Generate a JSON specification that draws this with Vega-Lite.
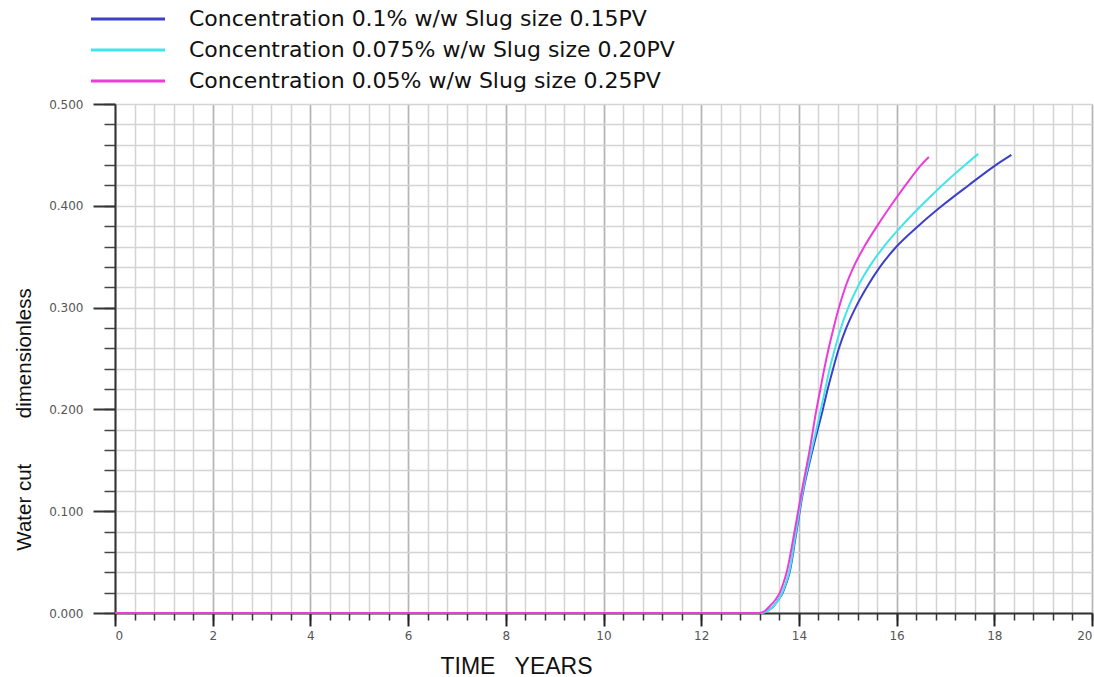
{
  "$schema": "https://vega.github.io/schema/vega-lite/v6.json",
  "width": 977,
  "height": 509,
  "autosize": "none",
  "padding": {"left": 115, "top": 104, "right": 2, "bottom": 64},
  "background": "white",
  "datasets": {
    "curves": [
      {"series": "Concentration 0.1% w/w Slug size 0.15PV", "t": 0, "wc": 0},
      {"series": "Concentration 0.1% w/w Slug size 0.15PV", "t": 13.25, "wc": 0},
      {"series": "Concentration 0.1% w/w Slug size 0.15PV", "t": 13.35, "wc": 0.002},
      {"series": "Concentration 0.1% w/w Slug size 0.15PV", "t": 13.47, "wc": 0.006},
      {"series": "Concentration 0.1% w/w Slug size 0.15PV", "t": 13.58, "wc": 0.013},
      {"series": "Concentration 0.1% w/w Slug size 0.15PV", "t": 13.67, "wc": 0.02},
      {"series": "Concentration 0.1% w/w Slug size 0.15PV", "t": 13.74, "wc": 0.029},
      {"series": "Concentration 0.1% w/w Slug size 0.15PV", "t": 13.81, "wc": 0.04},
      {"series": "Concentration 0.1% w/w Slug size 0.15PV", "t": 13.95, "wc": 0.08},
      {"series": "Concentration 0.1% w/w Slug size 0.15PV", "t": 14.09, "wc": 0.12},
      {"series": "Concentration 0.1% w/w Slug size 0.15PV", "t": 14.28, "wc": 0.16},
      {"series": "Concentration 0.1% w/w Slug size 0.15PV", "t": 14.49, "wc": 0.2},
      {"series": "Concentration 0.1% w/w Slug size 0.15PV", "t": 14.59, "wc": 0.22},
      {"series": "Concentration 0.1% w/w Slug size 0.15PV", "t": 14.7, "wc": 0.24},
      {"series": "Concentration 0.1% w/w Slug size 0.15PV", "t": 14.82, "wc": 0.26},
      {"series": "Concentration 0.1% w/w Slug size 0.15PV", "t": 14.97, "wc": 0.28},
      {"series": "Concentration 0.1% w/w Slug size 0.15PV", "t": 15.16, "wc": 0.3},
      {"series": "Concentration 0.1% w/w Slug size 0.15PV", "t": 15.39, "wc": 0.32},
      {"series": "Concentration 0.1% w/w Slug size 0.15PV", "t": 15.66, "wc": 0.34},
      {"series": "Concentration 0.1% w/w Slug size 0.15PV", "t": 16.0, "wc": 0.36},
      {"series": "Concentration 0.1% w/w Slug size 0.15PV", "t": 16.44, "wc": 0.38},
      {"series": "Concentration 0.1% w/w Slug size 0.15PV", "t": 16.93, "wc": 0.4},
      {"series": "Concentration 0.1% w/w Slug size 0.15PV", "t": 17.47, "wc": 0.42},
      {"series": "Concentration 0.1% w/w Slug size 0.15PV", "t": 18.03, "wc": 0.44},
      {"series": "Concentration 0.1% w/w Slug size 0.15PV", "t": 18.35, "wc": 0.45},
      {"series": "Concentration 0.075% w/w Slug size 0.20PV", "t": 0, "wc": 0},
      {"series": "Concentration 0.075% w/w Slug size 0.20PV", "t": 13.25, "wc": 0},
      {"series": "Concentration 0.075% w/w Slug size 0.20PV", "t": 13.35, "wc": 0.002},
      {"series": "Concentration 0.075% w/w Slug size 0.20PV", "t": 13.47, "wc": 0.006},
      {"series": "Concentration 0.075% w/w Slug size 0.20PV", "t": 13.58, "wc": 0.013},
      {"series": "Concentration 0.075% w/w Slug size 0.20PV", "t": 13.66, "wc": 0.02},
      {"series": "Concentration 0.075% w/w Slug size 0.20PV", "t": 13.73, "wc": 0.029},
      {"series": "Concentration 0.075% w/w Slug size 0.20PV", "t": 13.8, "wc": 0.04},
      {"series": "Concentration 0.075% w/w Slug size 0.20PV", "t": 13.94, "wc": 0.08},
      {"series": "Concentration 0.075% w/w Slug size 0.20PV", "t": 14.08, "wc": 0.12},
      {"series": "Concentration 0.075% w/w Slug size 0.20PV", "t": 14.26, "wc": 0.16},
      {"series": "Concentration 0.075% w/w Slug size 0.20PV", "t": 14.45, "wc": 0.2},
      {"series": "Concentration 0.075% w/w Slug size 0.20PV", "t": 14.54, "wc": 0.22},
      {"series": "Concentration 0.075% w/w Slug size 0.20PV", "t": 14.63, "wc": 0.24},
      {"series": "Concentration 0.075% w/w Slug size 0.20PV", "t": 14.74, "wc": 0.26},
      {"series": "Concentration 0.075% w/w Slug size 0.20PV", "t": 14.86, "wc": 0.28},
      {"series": "Concentration 0.075% w/w Slug size 0.20PV", "t": 15.01, "wc": 0.3},
      {"series": "Concentration 0.075% w/w Slug size 0.20PV", "t": 15.2, "wc": 0.32},
      {"series": "Concentration 0.075% w/w Slug size 0.20PV", "t": 15.44, "wc": 0.34},
      {"series": "Concentration 0.075% w/w Slug size 0.20PV", "t": 15.74, "wc": 0.36},
      {"series": "Concentration 0.075% w/w Slug size 0.20PV", "t": 16.1, "wc": 0.38},
      {"series": "Concentration 0.075% w/w Slug size 0.20PV", "t": 16.5, "wc": 0.4},
      {"series": "Concentration 0.075% w/w Slug size 0.20PV", "t": 16.93, "wc": 0.42},
      {"series": "Concentration 0.075% w/w Slug size 0.20PV", "t": 17.4, "wc": 0.44},
      {"series": "Concentration 0.075% w/w Slug size 0.20PV", "t": 17.67, "wc": 0.451},
      {"series": "Concentration 0.05% w/w Slug size 0.25PV", "t": 0, "wc": 0},
      {"series": "Concentration 0.05% w/w Slug size 0.25PV", "t": 13.2, "wc": 0},
      {"series": "Concentration 0.05% w/w Slug size 0.25PV", "t": 13.3, "wc": 0.002},
      {"series": "Concentration 0.05% w/w Slug size 0.25PV", "t": 13.41, "wc": 0.007},
      {"series": "Concentration 0.05% w/w Slug size 0.25PV", "t": 13.52, "wc": 0.013},
      {"series": "Concentration 0.05% w/w Slug size 0.25PV", "t": 13.61, "wc": 0.02},
      {"series": "Concentration 0.05% w/w Slug size 0.25PV", "t": 13.68, "wc": 0.029},
      {"series": "Concentration 0.05% w/w Slug size 0.25PV", "t": 13.75, "wc": 0.04},
      {"series": "Concentration 0.05% w/w Slug size 0.25PV", "t": 13.91, "wc": 0.08},
      {"series": "Concentration 0.05% w/w Slug size 0.25PV", "t": 14.06, "wc": 0.12},
      {"series": "Concentration 0.05% w/w Slug size 0.25PV", "t": 14.22, "wc": 0.16},
      {"series": "Concentration 0.05% w/w Slug size 0.25PV", "t": 14.36, "wc": 0.2},
      {"series": "Concentration 0.05% w/w Slug size 0.25PV", "t": 14.44, "wc": 0.22},
      {"series": "Concentration 0.05% w/w Slug size 0.25PV", "t": 14.52, "wc": 0.24},
      {"series": "Concentration 0.05% w/w Slug size 0.25PV", "t": 14.61, "wc": 0.26},
      {"series": "Concentration 0.05% w/w Slug size 0.25PV", "t": 14.71, "wc": 0.28},
      {"series": "Concentration 0.05% w/w Slug size 0.25PV", "t": 14.82, "wc": 0.3},
      {"series": "Concentration 0.05% w/w Slug size 0.25PV", "t": 14.95, "wc": 0.32},
      {"series": "Concentration 0.05% w/w Slug size 0.25PV", "t": 15.12, "wc": 0.34},
      {"series": "Concentration 0.05% w/w Slug size 0.25PV", "t": 15.34, "wc": 0.36},
      {"series": "Concentration 0.05% w/w Slug size 0.25PV", "t": 15.6, "wc": 0.38},
      {"series": "Concentration 0.05% w/w Slug size 0.25PV", "t": 15.88, "wc": 0.4},
      {"series": "Concentration 0.05% w/w Slug size 0.25PV", "t": 16.18, "wc": 0.42},
      {"series": "Concentration 0.05% w/w Slug size 0.25PV", "t": 16.5, "wc": 0.44},
      {"series": "Concentration 0.05% w/w Slug size 0.25PV", "t": 16.66, "wc": 0.448}
    ]
  },
  "data": {"name": "curves"},
  "layer": [
    {
      "mark": {"type": "line", "opacity": 0},
      "encoding": {
        "x": {
          "field": "t", "type": "quantitative",
          "scale": {"domain": [0, 20], "nice": false, "zero": false},
          "axis": {
            "orient": "bottom",
            "values": [0,0.4,0.8,1.2,1.6,2,2.4,2.8,3.2,3.6,4,4.4,4.8,5.2,5.6,6,6.4,6.8,7.2,7.6,8,8.4,8.8,9.2,9.6,10,10.4,10.8,11.2,11.6,12,12.4,12.8,13.2,13.6,14,14.4,14.8,15.2,15.6,16,16.4,16.8,17.2,17.6,18,18.4,18.8,19.2,19.6,20],
            "grid": true, "gridColor": "#d4d4d4", "gridWidth": 1.5,
            "domain": false, "labels": false, "title": null,
            "ticks": true, "tickSize": 7, "tickColor": "#333", "tickWidth": 1.5
          }
        },
        "y": {
          "field": "wc", "type": "quantitative",
          "scale": {"domain": [0, 0.5], "nice": false},
          "axis": {
            "orient": "left",
            "values": [0,0.02,0.04,0.06,0.08,0.1,0.12,0.14,0.16,0.18,0.2,0.22,0.24,0.26,0.28,0.3,0.32,0.34,0.36,0.38,0.4,0.42,0.44,0.46,0.48,0.5],
            "grid": true, "gridColor": "#d4d4d4", "gridWidth": 1.5,
            "domain": false, "labels": false, "title": null,
            "ticks": true, "tickSize": 11, "tickColor": "#444", "tickWidth": 1.5
          }
        }
      }
    },
    {
      "mark": {"type": "line", "strokeWidth": 2, "interpolate": "monotone"},
      "encoding": {
        "x": {
          "field": "t", "type": "quantitative",
          "scale": {"domain": [0, 20], "nice": false, "zero": false},
          "axis": {
            "orient": "bottom",
            "values": [0, 2, 4, 6, 8, 10, 12, 14, 16, 18, 20],
            "grid": true, "gridColor": "#b4b4b4", "gridWidth": 1.5,
            "domain": true, "domainColor": "#333", "domainWidth": 2,
            "ticks": true, "tickSize": 13, "tickColor": "#222", "tickWidth": 2,
            "labelFont": "DejaVu Sans", "labelFontSize": 12, "labelColor": "#555",
            "labelPadding": 4, "labelFlush": true,
            "title": "TIME\u00a0\u00a0\u00a0YEARS",
            "titleFont": "Liberation Sans", "titleFontSize": 23, "titleFontWeight": "normal",
            "titleColor": "#111", "titleX": 401, "titleY": 53,
            "titleAlign": "center", "titleBaseline": "middle"
          }
        },
        "y": {
          "field": "wc", "type": "quantitative",
          "scale": {"domain": [0, 0.5], "nice": false},
          "axis": {
            "orient": "left",
            "values": [0, 0.1, 0.2, 0.3, 0.4, 0.5],
            "format": ".3f",
            "grid": false,
            "domain": true, "domainColor": "#333", "domainWidth": 2,
            "ticks": true, "tickSize": 22, "tickColor": "#333", "tickWidth": 2,
            "labelFont": "DejaVu Sans", "labelFontSize": 12, "labelColor": "#555",
            "labelPadding": 10, "labelFlush": false,
            "title": "Water cut\u00a0\u00a0\u00a0\u00a0\u00a0\u00a0\u00a0\u00a0dimensionless",
            "titleFont": "Liberation Sans", "titleFontSize": 20.5, "titleFontWeight": "normal",
            "titleColor": "#111", "titleX": -91, "titleY": 315,
            "titleAlign": "center", "titleBaseline": "middle", "titleAngle": 270
          }
        },
        "color": {
          "field": "series", "type": "nominal",
          "sort": ["Concentration 0.1% w/w Slug size 0.15PV", "Concentration 0.075% w/w Slug size 0.20PV", "Concentration 0.05% w/w Slug size 0.25PV"],
          "scale": {
            "domain": ["Concentration 0.1% w/w Slug size 0.15PV", "Concentration 0.075% w/w Slug size 0.20PV", "Concentration 0.05% w/w Slug size 0.25PV"],
            "range": ["#3c40c8", "#44e4ec", "#ec3cd8"]
          },
          "legend": {
            "orient": "none", "legendX": -7, "legendY": -105,
            "title": null,
            "labelFont": "DejaVu Sans", "labelFontSize": 22, "labelColor": "#111",
            "labelLimit": 1000, "labelOffset": 41,
            "symbolType": "M-2,0L2,0", "symbolSize": 1369, "symbolStrokeWidth": 3,
            "rowPadding": -4, "padding": 0
          }
        }
      }
    }
  ],
  "resolve": {"axis": {"x": "independent", "y": "independent"}},
  "config": {"view": {"stroke": null}}
}
